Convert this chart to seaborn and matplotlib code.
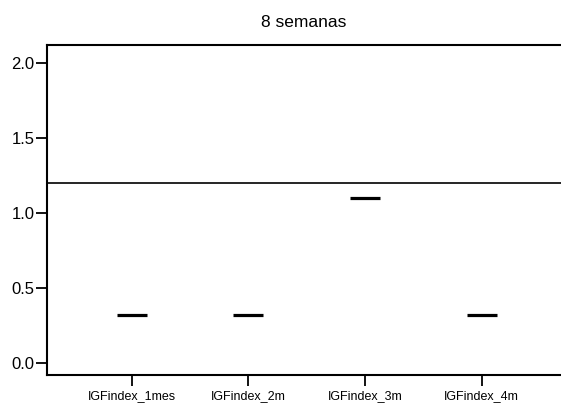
import matplotlib
matplotlib.use("Agg")
import matplotlib.pyplot as plt
import seaborn as sns

# data
categories = ["IGFindex_1mes", "IGFindex_2m", "IGFindex_3m", "IGFindex_4m"]
values = [0.32, 0.32, 1.1, 0.32]
reference_level = 1.2
y_ticks = [0.0, 0.5, 1.0, 1.5, 2.0]

sns.set_style("ticks")
plt.rcParams["font.family"] = ["Liberation Sans", "DejaVu Sans"]
plt.rcParams["text.color"] = "black"
plt.rcParams["xtick.color"] = "black"
plt.rcParams["ytick.color"] = "black"
plt.rcParams["axes.labelcolor"] = "black"

fig = plt.figure(figsize=(5.61, 4.08), dpi=100)
ax = fig.add_axes([0.0838, 0.0809, 0.9162, 0.8088])

sns.scatterplot(x=categories, y=values, marker="_", s=440, linewidth=2.3,
                color="black", ax=ax, legend=False)
ax.axhline(reference_level, color="black", linewidth=1.2)

ax.set_xlim(-0.726, 3.68)
ax.set_ylim(-0.082, 2.118)
ax.set_yticks(y_ticks)
ax.set_yticklabels([f"{v:.1f}" for v in y_ticks], fontsize=12)
ax.tick_params(axis="x", labelsize=9, length=8, width=1.3, pad=3,
               color="black", labelcolor="black")
ax.tick_params(axis="y", length=8, width=1.3, pad=1,
               color="black", labelcolor="black")
ax.set_xlabel("")
ax.set_ylabel("")
ax.set_title("8 semanas", fontsize=12.5, pad=13, color="black")

for side in ["left", "top", "bottom"]:
    ax.spines[side].set_linewidth(1.5)
    ax.spines[side].set_color("black")
ax.spines["right"].set_visible(False)

fig.savefig("out.png", dpi=100)
